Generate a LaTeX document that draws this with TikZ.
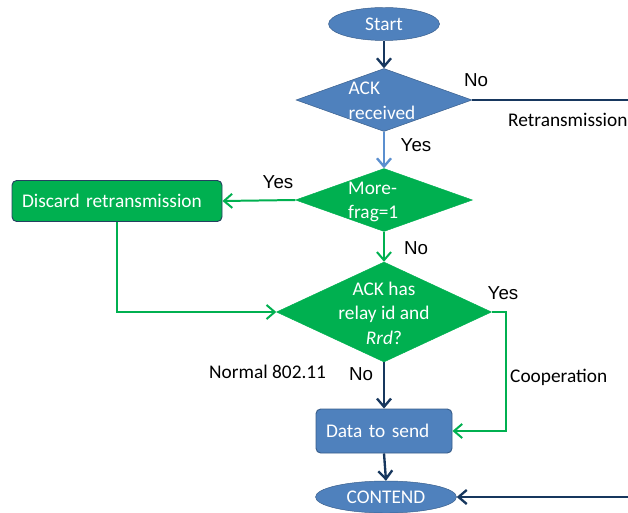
\documentclass[tikz,border=0pt]{standalone}
\usepackage{fontspec}
\setmainfont{Carlito}
\newfontfamily\arialfont{Liberation Sans}
\usepackage{tikz}
\usetikzlibrary{arrows.meta, shapes.geometric, positioning}

\definecolor{boxblue}{HTML}{4F81BD}
\definecolor{edgeblue}{HTML}{385D8A}
\definecolor{navy}{HTML}{17375E}
\definecolor{lightarrow}{HTML}{5B8FCF}
\definecolor{flowgreen}{HTML}{00B050}
\definecolor{darkrim}{HTML}{254061}

\begin{document}
\begin{tikzpicture}[x=0.03cm, y=-0.03cm]
\tikzstyle{txt}=[font=\fontsize{16.5}{21}\selectfont]
\tikzstyle{lbl}=[font=\arialfont\fontsize{16}{19}\selectfont, text=black, inner sep=0pt]
\tikzstyle{cmt}=[txt, text=black, inner sep=0pt, anchor=west]
\tikzstyle{term}=[ellipse, txt, fill=boxblue, draw=edgeblue, thin, text=white, inner sep=0pt]
\tikzstyle{decision}=[diamond, draw, thin, inner sep=0pt]
\tikzstyle{proc}=[rectangle, rounded corners=4pt, txt, text=white, thick, inner xsep=10\pgflinewidth, align=left]
\tikzstyle{dark}=[-{Straight Barb[length=7pt,width=12pt]}, line width=2pt, draw=navy]
\tikzstyle{pale}=[dark, draw=lightarrow]
\tikzstyle{grn}=[dark, line width=1.7pt, draw=flowgreen]
\useasboundingbox (0,0) rectangle (628,512);

% nodes
\node[term, minimum width=111*0.03cm, minimum height=33*0.03cm] (start) at (384,24) {Start};
\node[decision, fill=boxblue, draw=edgeblue, minimum width=176*0.03cm, minimum height=63*0.03cm] (ack) at (384,100) {};
\node[txt, text=white, align=left, inner sep=0pt] (acktxt) at (382,101) {ACK\\received};
\node[decision, fill=flowgreen, draw=flowgreen, minimum width=177*0.03cm, minimum height=63*0.03cm] (frag) at (384,200) {};
\node[txt, text=white, align=left, inner sep=0pt, anchor=west] (fragtxt) at (348,202) {More-\\frag=1};
\node[proc, fill=flowgreen, draw=darkrim, text width=190*0.03cm, minimum height=41*0.03cm, inner xsep=10*0.03cm] (discard) at (117,201) {Discard retransmission};
\node[decision, fill=flowgreen, draw=flowgreen, minimum width=215*0.03cm, minimum height=100*0.03cm] (relay) at (384,312) {};
\node[txt, text=white, align=center, inner sep=0pt] (relaytxt) at (384,313) {ACK has\\relay id and\\\textit{Rrd}?};
\node[proc, fill=boxblue, draw=edgeblue, text width=116*0.03cm, minimum height=44*0.03cm, inner xsep=10*0.03cm] (data) at (384,431) {Data to send};
\node[term, minimum width=141*0.03cm, minimum height=32*0.03cm] (contend) at (386,497) {CONTEND};
\coordinate (retx) at (628,100);
\coordinate (back) at (628,497);

% connectors
\draw[dark] (start) -- (ack);
\draw[dark, -] (ack.east) -- (retx);
\draw[pale] (ack.south) -- (frag.north);
\draw[grn] (frag.west) -- (discard.east);
\draw[grn] (frag.south) -- (relay.north);
\draw[grn] (discard.south) |- (relay.west);
\draw[grn] (relay.east) -- ++(14,0) |- (data.east);
\draw[dark] (relay.south) -- (data.north);
\draw[dark] (data.south) -- (contend.north);
\draw[dark] (back) -- (contend.east);

% labels
\node[lbl] (no1) at (476,80) {No};
\node[cmt] (retxlbl) at (508,120) {Retransmission};
\node[lbl] (yes1) at (416,145) {Yes};
\node[lbl] (yes2) at (278,182) {Yes};
\node[lbl] (no2) at (416,248) {No};
\node[lbl] (yes3) at (503,293) {Yes};
\node[cmt] (coop) at (510,377) {Cooperation};
\node[cmt] (normal) at (209,372) {Normal 802.11};
\node[lbl] (no3) at (361,374) {No};
\end{tikzpicture}
\end{document}
